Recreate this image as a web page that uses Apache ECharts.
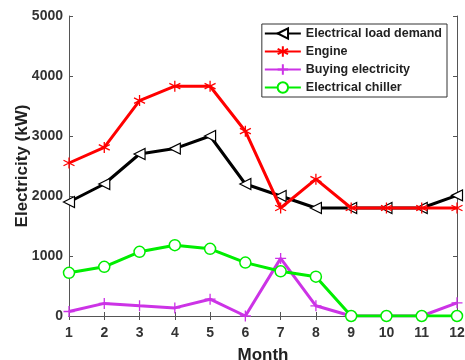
<!DOCTYPE html>
<html>
<head>
<meta charset="utf-8">
<script src="https://cdn.jsdelivr.net/npm/echarts@6/dist/echarts.min.js"></script>
<style>
  html, body { margin: 0; padding: 0; background: #fff; }
  #main { width: 465px; height: 360px; }
</style>
</head>
<body>
<div id="main"></div>
<script>
// 月份
var months = [1, 2, 3, 4, 5, 6, 7, 8, 9, 10, 11, 12];
// 各序列数据 (kW)
var loadDemand = [1900, 2200, 2700, 2790, 3000, 2200, 2000, 1800, 1800, 1800, 1800, 2010];
var engine = [2550, 2810, 3590, 3830, 3830, 3080, 1800, 2280, 1800, 1800, 1800, 1800];
var buying = [75, 210, 170, 135, 280, 0, 960, 170, 0, 0, 0, 220];
var chiller = [720, 820, 1070, 1180, 1120, 890, 745, 655, 0, 0, 0, 0];
var yTicks = [0, 1000, 2000, 3000, 4000, 5000];

function pairs(arr) {
  return months.map(function (m, i) { return [m, arr[i]]; });
}

var font = "Liberation Sans";
var asterisk = "path://M0,-10L0,10M-8.66,-5L8.66,5M-8.66,5L8.66,-5";

var myChart = echarts.init(document.getElementById("main"));
myChart.setOption({
  animation: false,
  textStyle: { fontFamily: font },
  grid: { left: 69, right: 8, top: 16, bottom: 44, containLabel: false, outerBoundsMode: "none" },
  legend: {
    right: 18,
    top: 24,
    orient: "vertical",
    itemGap: 5,
    itemWidth: 36,
    itemHeight: 13,
    padding: [3, 5, 3, 2],
    borderColor: "#333",
    borderWidth: 1,
    backgroundColor: "#fff",
    textStyle: { fontFamily: font, fontWeight: "bold", fontSize: 12.5, color: "#222" },
    data: ["Electrical load demand", "Engine", "Buying electricity", "Electrical chiller"]
  },
  xAxis: [
    {
      type: "value",
      min: 1,
      max: 12,
      interval: 1,
      name: "Month",
      nameLocation: "middle",
      nameGap: 31,
      nameTextStyle: { fontFamily: font, fontWeight: "bold", fontSize: 17, color: "#222" },
      axisLine: { lineStyle: { color: "#555", width: 1 } },
      axisTick: { inside: true, length: 4, lineStyle: { color: "#555" } },
      axisLabel: { fontFamily: font, fontWeight: "bold", fontSize: 14, color: "#333", margin: 10 },
      splitLine: { show: false }
    },
    {
      type: "value",
      position: "top",
      min: 1,
      max: 12,
      interval: 1,
      axisLine: { show: true, lineStyle: { color: "#555", width: 1 } },
      axisTick: { inside: true, length: 4, lineStyle: { color: "#555" } },
      axisLabel: { show: false },
      splitLine: { show: false }
    }
  ],
  yAxis: [
    {
      type: "value",
      min: 0,
      max: 5000,
      interval: 1000,
      name: "Electricity (kW)",
      nameLocation: "middle",
      nameGap: 38,
      nameMoveOverlap: false,
      nameTextStyle: { fontFamily: font, fontWeight: "bold", fontSize: 17, color: "#222" },
      axisLine: { show: true, lineStyle: { color: "#555", width: 1 } },
      axisTick: { show: true, inside: true, length: 4, lineStyle: { color: "#555" } },
      axisLabel: {
        fontFamily: font, fontWeight: "bold", fontSize: 14, color: "#333", margin: 6,
        formatter: function (v) { return yTicks.indexOf(v) >= 0 ? String(v) : ""; }
      },
      splitLine: { show: false }
    },
    {
      type: "value",
      position: "right",
      min: 0,
      max: 5000,
      interval: 1000,
      axisLine: { show: true, lineStyle: { color: "#555", width: 1 } },
      axisTick: { show: true, inside: true, length: 4, lineStyle: { color: "#555" } },
      axisLabel: { show: false },
      splitLine: { show: false }
    }
  ],
  series: [
    {
      name: "Electrical load demand",
      type: "line",
      data: pairs(loadDemand),
      symbol: "triangle",
      symbolRotate: 90,
      symbolSize: 11,
      showAllSymbol: true,
      lineStyle: { color: "#000", width: 3 },
      itemStyle: { color: "#fff", borderColor: "#000", borderWidth: 1.2 },
      z: 2
    },
    {
      name: "Engine",
      type: "line",
      data: pairs(engine),
      symbol: asterisk,
      symbolSize: 11,
      lineStyle: { color: "#ff0000", width: 3 },
      itemStyle: { color: "#ff0000", borderColor: "#ff0000", borderWidth: 1.3 },
      z: 3
    },
    {
      name: "Buying electricity",
      type: "line",
      data: pairs(buying),
      symbol: "path://M0,-10L0,10M-10,0L10,0",
      symbolSize: 11,
      lineStyle: { color: "#cc33e6", width: 3 },
      itemStyle: { color: "#cc33e6", borderColor: "#cc33e6", borderWidth: 1.3 },
      z: 2
    },
    {
      name: "Electrical chiller",
      type: "line",
      data: pairs(chiller),
      symbol: "circle",
      symbolSize: 11,
      lineStyle: { color: "#00ee00", width: 3 },
      itemStyle: { color: "#fff", borderColor: "#00ee00", borderWidth: 1.5 },
      z: 4
    }
  ]
});
myChart.resize();
</script>
</body>
</html>
